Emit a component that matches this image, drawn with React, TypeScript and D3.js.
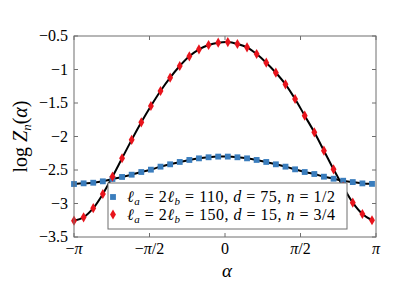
import * as d3 from "d3";

// sample grid in alpha (step 0.2 starting at -pi)
const alphaStep = 0.2;
const nPoints = 32;

// series 1: la = 2lb = 110, d = 75, n = 1/2
const blueVals = [
  -2.709, -2.699, -2.69, -2.669, -2.634, -2.604, -2.57, -2.53, -2.495, -2.45,
  -2.415, -2.38, -2.35, -2.326, -2.31, -2.3, -2.3, -2.31, -2.326, -2.35, -2.38,
  -2.415, -2.45, -2.49, -2.53, -2.56, -2.6, -2.63, -2.66, -2.68, -2.7, -2.707,
];

// series 2: la = 2lb = 150, d = 15, n = 3/4
const redVals = [
  -3.257, -3.206, -3.07, -2.858, -2.6, -2.325, -2.05, -1.788, -1.545, -1.321,
  -1.122, -0.948, -0.803, -0.699, -0.634, -0.6, -0.59, -0.619, -0.669, -0.769,
  -0.898, -1.048, -1.221, -1.44, -1.689, -1.937, -2.212, -2.49, -2.749, -2.988,
  -3.157, -3.25,
];

const yTicks = [-0.5, -1, -1.5, -2, -2.5, -3, -3.5];
const xTicks = [-Math.PI, -Math.PI / 2, 0, Math.PI / 2, Math.PI];
const xTickLabels = [
  ["\u2212", "\u03c0", ""],
  ["\u2212", "\u03c0", "/2"],
  ["", "0", ""],
  ["", "\u03c0", "/2"],
  ["", "\u03c0", ""],
];

const W = 407;
const H = 294;
const m = { left: 74, right: 376, top: 36, bottom: 237 };
const font = "'Liberation Serif', 'Times New Roman', serif";
const axisColor = "#6f6f6f";

const x = d3.scaleLinear().domain([-Math.PI, Math.PI]).range([m.left, m.right]);
const y = d3.scaleLinear().domain([-3.5, -0.5]).range([m.bottom, m.top]);

const alphas = d3.range(nPoints).map((k) => -Math.PI + k * alphaStep);

const line = d3
  .line<number>()
  .x((_, i) => x(alphas[i]))
  .y((d) => y(d))
  .curve(d3.curveCatmullRom);

const square = d3.symbol(d3.symbolSquare, 34)();
const diamond = d3.symbol(d3.symbolDiamond, 30)();

const fmt = (v: number) => (v < 0 ? "\u2212" : "") + Math.abs(v);

const Legend = () => {
  const lx = 108;
  const ly = 183;
  const rows = [
    { shape: square, color: "#3a7dbd", w: "110", d: "75", n: "1/2" },
    { shape: diamond, color: "#e8141c", w: "150", d: "15", n: "3/4" },
  ];
  return (
    <g>
      <rect x={lx} y={ly} width={239} height={46} fill="white" stroke={axisColor} />
      {rows.map((r, i) => {
        const cy = ly + 14 + i * 17.5;
        return (
          <g key={i}>
            <path d={r.shape} transform={`translate(${lx + 5},${cy})`} fill={r.color} />
            <text x={lx + 19} y={cy + 5} fontFamily={font} fontSize={16} textLength={208} lengthAdjust="spacing">
              <tspan fontStyle="italic">{"\u2113"}</tspan>
              <tspan fontStyle="italic" fontSize={11} dy={3}>a</tspan>
              <tspan dy={-3}>{" = 2"}</tspan>
              <tspan fontStyle="italic">{"\u2113"}</tspan>
              <tspan fontStyle="italic" fontSize={11} dy={3}>b</tspan>
              <tspan dy={-3}>{` = ${r.w}, `}</tspan>
              <tspan fontStyle="italic">d</tspan>
              <tspan>{` = ${r.d}, `}</tspan>
              <tspan fontStyle="italic">n</tspan>
              <tspan>{` = ${r.n}`}</tspan>
            </text>
          </g>
        );
      })}
    </g>
  );
};

export default function App() {
  return (
    <div style={{ position: "absolute", left: 0, top: 0 }}>
      <svg width={W} height={H} style={{ display: "block", background: "white" }}>
        {/* curves */}
        <path d={line(blueVals) ?? ""} fill="none" stroke="black" strokeWidth={2} />
        <path d={line(redVals) ?? ""} fill="none" stroke="black" strokeWidth={2} />
        {blueVals.map((v, i) => (
          <path key={"b" + i} d={square} transform={`translate(${x(alphas[i])},${y(v)})`} fill="#3a7dbd" />
        ))}
        {redVals.map((v, i) => (
          <path key={"r" + i} d={diamond} transform={`translate(${x(alphas[i])},${y(v)})`} fill="#e8141c" />
        ))}

        {/* frame + inward ticks */}
        <rect x={m.left} y={m.top} width={m.right - m.left} height={m.bottom - m.top} fill="none" stroke={axisColor} />
        {yTicks.map((t) => (
          <g key={"y" + t} stroke={axisColor}>
            <line x1={m.left} x2={m.left + 4} y1={y(t)} y2={y(t)} />
            <line x1={m.right - 4} x2={m.right} y1={y(t)} y2={y(t)} />
          </g>
        ))}
        {xTicks.map((t, i) => (
          <g key={"x" + i} stroke={axisColor}>
            <line x1={x(t)} x2={x(t)} y1={m.bottom} y2={m.bottom - 4} />
            <line x1={x(t)} x2={x(t)} y1={m.top} y2={m.top + 4} />
          </g>
        ))}

        <Legend />

        {/* tick labels */}
        {yTicks.map((t) => (
          <text key={"yl" + t} x={m.left - 6} y={y(t) + 5} textAnchor="end" fontFamily={font} fontSize={16}>
            {fmt(t)}
          </text>
        ))}
        {xTicks.map((t, i) => (
          <text key={"xl" + i} x={x(t)} y={m.bottom + 17} textAnchor="middle" fontFamily={font} fontSize={16}>
            <tspan>{xTickLabels[i][0]}</tspan>
            <tspan fontStyle={xTickLabels[i][1] === "0" ? "normal" : "italic"}>{xTickLabels[i][1]}</tspan>
            <tspan>{xTickLabels[i][2]}</tspan>
          </text>
        ))}

        {/* axis labels */}
        <text x={x(0) + 2} y={277} textAnchor="middle" fontFamily={font} fontSize={19} fontStyle="italic">
          {"\u03b1"}
        </text>
        <text transform={`translate(27,${(m.top + m.bottom) / 2}) rotate(-90)`} textAnchor="middle" fontFamily={font} fontSize={20}>
          <tspan>log </tspan>
          <tspan fontStyle="italic">Z</tspan>
          <tspan fontStyle="italic" fontSize={13} dy={4}>n</tspan>
          <tspan dy={-4}>(</tspan>
          <tspan fontStyle="italic">{"\u03b1"}</tspan>
          <tspan>)</tspan>
        </text>
      </svg>
    </div>
  );
}
